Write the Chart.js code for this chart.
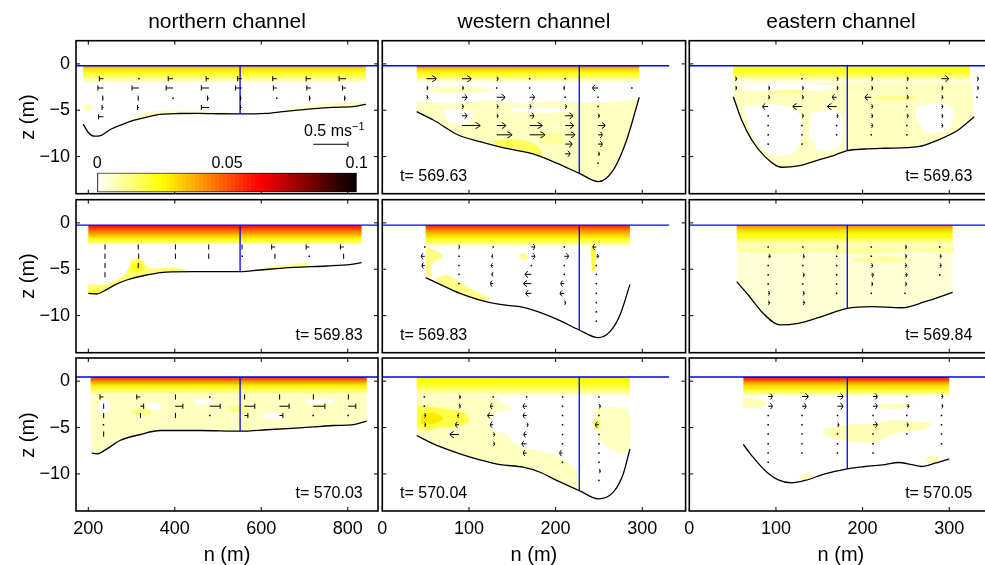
<!DOCTYPE html>
<html><head><meta charset="utf-8">
<script src="https://cdn.jsdelivr.net/npm/chart.js@4.4.1/dist/chart.umd.min.js"></script>
<style>
html,body{margin:0;padding:0;background:#fff;overflow:hidden;width:985px;height:565px;}
#wrap{position:relative;width:985px;height:565px;overflow:hidden;background:#fff;}
canvas{position:absolute;}
.lbl{position:absolute;font-family:"Liberation Sans",Arial,Helvetica,sans-serif;color:#000;white-space:nowrap;line-height:1;}
</style></head><body><div id="wrap"></div>
<script>
// ================= DATA =================
const columnTitles = ['northern channel', 'western channel', 'eastern channel'];
const timeLabels = [[null, 't= 569.63', 't= 569.63'], ['t= 569.83', 't= 569.83', 't= 569.84'], ['t= 570.03', 't= 570.04', 't= 570.05']];
const zTicks = [-10, -5, 0];
const zRange = [-14, 2.5];
const nTicksNorth = [200, 400, 600, 800];
const nTicksWE = [0, 100, 200, 300];
const nRangeNorth = [171.5, 870];
const nRangeWE = [0, 350];
const cbTicks = [0, 0.05, 0.1];
const cbRange = [0, 0.1];
const quiverScale = 160;            // m of n per (m/s)
const refArrow = [720.5, -8.67, 0.5]; // n, z, u (0.5 m/s)

// water surface (blue line) per row, vertical section line per column
const surfZ = [-0.2, -0.25, 0.45];
const surfEndN = [870, 331, 350];
const vertN = [551, 227.3, 182.3];
const vertBottom = [[-5.4, -11.8, -9.36], [-5.26, -11.55, -9.21], [-5.39, -11.8, -9.45]];

// bathymetry [n, z]
const bath_r1c1 = [[188,-6.5],[200,-7.4],[214,-7.8],[230,-7.7],[250,-7.1],[275,-6.6],[304,-6.1],[335,-5.75],[366,-5.45],[410,-5.35],[458,-5.33],[505,-5.38],[551,-5.4],[612,-5.33],[650,-5.15],[690,-4.97],[730,-4.8],[766,-4.68],[812,-4.62],[842,-4.36]];
const bath_r2c1 = [[200,-7.6],[219,-7.67],[243,-7.17],[265,-6.6],[289,-6.16],[335,-5.62],[381,-5.3],[443,-5.26],[551,-5.26],[597,-5.08],[674,-4.8],[751,-4.65],[805,-4.5],[832,-4.29]];
const bath_r3c1 = [[208,-7.76],[219,-7.84],[243,-7.3],[273,-6.4],[320,-5.75],[366,-5.32],[458,-5.32],[552,-5.39],[613,-5.24],[690,-5.03],[767,-4.78],[813,-4.68],[844,-4.32]];
const bath_r1c2 = [[39.7,-5.15],[58.9,-6.05],[87.7,-7.67],[112.7,-8.39],[137.8,-9.0],[162.7,-9.47],[178.1,-9.83],[201.2,-10.7],[227.3,-11.8],[249.2,-12.7],[266.5,-11.45],[282,-8.2],[296.5,-3.6]];
const bath_r2c2 = [[50,-5.9],[66.6,-6.63],[89.6,-7.6],[112.7,-8.32],[135.8,-8.8],[158.9,-9.04],[174.2,-9.4],[201.2,-10.37],[227.3,-11.55],[249.2,-12.38],[262.7,-11.73],[274.3,-9.94],[285.8,-6.63]];
const bath_r3c2 = [[39.7,-5.86],[58.9,-6.76],[89.6,-7.83],[112.7,-8.48],[135.8,-8.99],[162.7,-9.28],[182,-9.82],[201.2,-10.7],[227.3,-11.8],[249.2,-12.69],[266.5,-11.97],[278,-10.0],[285.8,-7.3]];
const bath_r1c3 = [[50.8,-3.54],[60.4,-6.05],[72,-8.2],[87.3,-10.0],[106.6,-11.15],[125.8,-11.0],[148.8,-10.37],[168.1,-9.83],[182.3,-9.36],[202.7,-9.18],[225.8,-9.1],[264.2,-8.93],[287.3,-8.2],[310.4,-7.13],[328.8,-5.7]];
const bath_r2c3 = [[54.7,-6.34],[68.1,-7.78],[83.5,-9.58],[104.7,-11.0],[125.8,-10.83],[148.8,-10.23],[182.3,-9.21],[210.4,-9.04],[245,-9.15],[272,-8.5],[303.9,-7.49]];
const bath_r3c3 = [[62.3,-6.83],[72,-8.02],[87.3,-9.63],[102.7,-10.64],[118.1,-10.96],[133.5,-10.71],[156.6,-10.0],[182.3,-9.45],[202.7,-9.2],[225.8,-8.99],[241.1,-8.77],[256.6,-8.99],[268.1,-9.2],[283.5,-8.85],[300,-8.37]];

// surface layer: n extent, depth levels and field values
const bandN_r1c1 = [188, 842], bandZ_r1c1 = [-0.2,-0.6,-1.0,-1.4,-1.8,-2.05], bandV_r1c1 = [0.038,0.028,0.022,0.014,0.007,0.001];
const bandN_r2c1 = [200, 832], bandZ_r2c1 = [-0.25,-0.7,-1.2,-1.7,-2.1,-2.3], bandV_r2c1 = [0.062,0.05,0.038,0.026,0.015,0.007];
const bandN_r3c1 = [205.5, 844], bandZ_r3c1 = [0.45,0,-0.5,-1.0,-1.54], bandV_r3c1 = [0.058,0.042,0.027,0.015,0.005];
const bandN_r1c2 = [39.7, 296.5], bandZ_r1c2 = [-0.2,-0.6,-1.0,-1.4,-1.8,-2.0], bandV_r1c2 = [0.046,0.031,0.024,0.015,0.006,0.001];
const bandN_r2c2 = [50, 285.8], bandZ_r2c2 = [-0.25,-0.7,-1.2,-1.7,-2.2,-2.5], bandV_r2c2 = [0.058,0.045,0.034,0.024,0.012,0.004];
const bandN_r3c2 = [39.7, 285.8], bandZ_r3c2 = [0.45,0,-0.5,-1.0,-1.54], bandV_r3c2 = [0.027,0.024,0.02,0.012,0.005];
const bandN_r1c3 = [50.8, 324], bandZ_r1c3 = [-0.2,-0.7,-1.2,-1.6,-2.0], bandV_r1c3 = [0.026,0.023,0.017,0.008,0.001];
const bandN_r2c3 = [54.7, 303.9], bandZ_r2c3 = [-0.25,-0.7,-1.2,-1.7,-2.2,-2.5], bandV_r2c3 = [0.045,0.032,0.025,0.018,0.008,0.004];
const bandN_r3c3 = [62.3, 300], bandZ_r3c3 = [0.45,0,-0.5,-1.0,-1.54], bandV_r3c3 = [0.062,0.045,0.03,0.02,0.006];

// low-level patches of the field {v, pts:[[n,z]...]}, listed bottom-to-top
const top_r1c2 = [[39.7,-4.0],[80,-4.3],[120,-3.9],[160,-4.3],[200,-4.0],[240,-4.2],[280,-4.0],[296.5,-3.6]];
const top_r1c3 = [[50.8,-1.9],[326,-1.9]];
const top_r2c3 = [[54.7,-2.4],[303.9,-2.4]];
const top_r3c1 = [[205.5,-1.54],[844,-1.54]];
const patch_r1c1 = [
  {v:0.006, pts:[[188,-4.4],[205,-4.3],[212,-4.8],[200,-5.1],[188,-5.0]]},
  {v:0.006, pts:[[300,-5.9],[340,-5.2],[400,-5.0],[460,-5.1],[520,-5.2],[520,-5.38],[458,-5.33],[366,-5.45],[304,-6.1]]},
  {v:0.006, pts:[[660,-4.8],[700,-4.5],[760,-4.25],[842,-4.1],[842,-4.36],[812,-4.62],[766,-4.68],[690,-4.97],[660,-5.1]]}
];
const patch_r2c1 = [
  {v:0.014, pts:[[200,-6.6],[230,-6.7],[260,-6.3],[285,-5.5],[295,-4.6],[300,-4.0],[315,-3.8],[330,-4.3],[340,-4.9],[370,-4.9],[400,-4.8],[420,-5.0],[430,-5.2],[381,-5.3],[335,-5.62],[289,-6.16],[243,-7.17],[219,-7.67],[200,-7.6]]},
  {v:0.022, pts:[[300,-4.5],[318,-4.2],[328,-4.8],[312,-5.3],[298,-5.2]]},
  {v:0.02, pts:[[200,-7.2],[230,-7.25],[240,-7.05],[225,-7.6],[205,-7.6]]},
  {v:0.01, pts:[[590,-5.05],[620,-4.7],[660,-4.5],[700,-4.3],[715,-4.5],[700,-4.8],[674,-4.8],[597,-5.08]]}
];
const patch_r3c1 = [
  {v:0.006, base:true, pts:top_r3c1.concat(bath_r3c1.slice().reverse())},
  {v:0, pts:[[225,-2.2],[245,-2.0],[250,-3.0],[235,-3.5],[222,-3.0]]},
  {v:0, pts:[[330,-2.6],[360,-2.4],[370,-3.0],[340,-3.1]]},
  {v:0, pts:[[440,-2.0],[480,-1.9],[490,-2.4],[450,-2.5]]},
  {v:0, pts:[[700,-2.0],[760,-1.9],[770,-2.3],[710,-2.4]]},
  {v:0, pts:[[600,-3.6],[640,-3.4],[650,-4.0],[610,-4.1]]},
  {v:0.012, pts:[[520,-2.8],[560,-2.6],[570,-3.2],[530,-3.4]]},
  {v:0.012, pts:[[300,-3.1],[340,-3.0],[345,-3.6],[305,-3.7]]}
];
const patch_r1c2 = [
  {v:0.006, base:true, pts:top_r1c2.concat(bath_r1c2.slice().reverse())},
  {v:0.006, pts:[[55,-2.5],[100,-2.4],[130,-2.8],[100,-3.2],[55,-3.1]]},
  {v:0, pts:[[70,-5.0],[90,-4.9],[105,-5.5],[95,-6.5],[75,-6.3]]},
  {v:0, pts:[[150,-4.8],[190,-4.7],[220,-5.0],[190,-5.3],[150,-5.2]]},
  {v:0.01, pts:[[175,-7.5],[205,-7.6],[210,-8.5],[190,-8.6]]},
  {v:0.016, pts:[[125,-8.4],[150,-8.1],[175,-8.6],[185,-9.6],[178,-9.83],[163,-9.47],[138,-9.0]]}
];
const patch_r2c2 = [
  {v:0.012, pts:[[50,-2.6],[62,-3.0],[70,-3.6],[60,-4.2],[55,-5.0],[58,-5.5],[50,-5.9]]},
  {v:0.012, pts:[[60,-6.0],[75,-5.6],[90,-6.4],[110,-7.5],[125,-8.2],[112.7,-8.32],[89.6,-7.6],[66.6,-6.63]]},
  {v:0.012, pts:[[158,-3.4],[165,-3.3],[168,-3.9],[160,-4.0]]},
  {v:0.02, pts:[[240,-2.4],[246,-2.4],[245,-5.2],[242,-5.2]]}
];
const patch_r3c2 = [
  {v:0.006, base:true, pts:[[39.7,-1.6],[130,-1.6],[140,-2.4],[150,-3.0],[128,-3.5],[122,-4.5],[128,-5.3],[145,-5.8],[150,-6.6],[170,-7.3],[200,-7.9],[215,-8.9],[228,-9.8],[230,-11.9],[227.3,-11.8],[201.2,-10.7],[182,-9.82],[162.7,-9.28],[135.8,-8.99],[112.7,-8.48],[89.6,-7.83],[58.9,-6.76],[39.7,-5.86]]},
  {v:0.006, pts:[[244,-3.0],[270,-2.8],[285,-3.2],[285,-7.3],[275,-7.8],[258,-7.0],[250,-6.0],[244,-4.0]]},
  {v:0.018, pts:[[40,-2.6],[60,-2.8],[75,-3.0],[95,-3.4],[100,-4.3],[90,-4.8],[70,-5.0],[50,-5.3],[40,-5.0]]},
  {v:0.028, pts:[[45,-3.5],[60,-3.4],[70,-4.0],[60,-4.6],[45,-4.6]]},
  {v:0.014, pts:[[243,-4.3],[250,-4.2],[252,-5.0],[244,-5.2]]}
];
const patch_r1c3 = [
  {v:0.006, base:true, pts:top_r1c3.concat(bath_r1c3.slice().reverse())},
  {v:0, pts:[[62,-4.6],[100,-4.4],[125,-5.2],[130,-7.5],[120,-9.6],[95,-9.8],[78,-8.5],[68,-6.5]]},
  {v:0, pts:[[140,-5.3],[170,-5.0],[178,-6.5],[172,-9.0],[150,-9.3],[138,-7.5]]},
  {v:0, pts:[[262,-4.6],[290,-4.2],[305,-5.0],[300,-7.0],[275,-7.4],[262,-6.0]]},
  {v:0, pts:[[55,-2.2],[130,-2.1],[175,-2.6],[120,-3.0],[60,-2.8]]},
  {v:0.012, pts:[[212,-3.6],[240,-3.4],[265,-3.6],[240,-3.9],[212,-3.8]]},
  {v:0.012, pts:[[95,-2.9],[120,-2.8],[140,-3.0],[120,-3.2],[95,-3.1]]}
];
const patch_r2c3 = [
  {v:0.004, base:true, pts:top_r2c3.concat(bath_r2c3.slice().reverse())},
  {v:0.009, pts:[[55,-2.4],[304,-2.4],[304,-3.2],[250,-3.0],[200,-3.4],[150,-3.1],[100,-3.3],[55,-3.0]]},
  {v:0.009, pts:[[190,-3.8],[230,-3.6],[260,-4.0],[230,-4.3],[190,-4.2]]}
];
const patch_r3c3 = [
  {v:0.007, pts:[[62,-1.8],[80,-1.9],[90,-2.4],[80,-2.9],[62,-2.8]]},
  {v:0.007, pts:[[215,-2.6],[240,-2.4],[260,-2.6],[240,-3.0],[215,-2.9]]},
  {v:0.007, pts:[[155,-5.2],[180,-4.7],[210,-4.6],[230,-4.2],[260,-4.3],[280,-4.6],[270,-5.2],[240,-5.6],[210,-6.6],[170,-6.3],[155,-5.8]]},
  {v:0.007, pts:[[125,-10.3],[135,-9.9],[142,-10.3],[135,-10.8]]},
  {v:0.007, pts:[[272,-8.3],[285,-8.0],[288,-8.6],[276,-8.9]]}
];

// velocity vectors: n of each profile, z of each bin, u (m/s) per profile (null = no data)
const arrN_r1c1 = [235,317,396,479,555,636,715,796];
const arrZ_r1c1 = [-1.6,-2.6,-3.7,-4.7,-5.7];
const arrU_r1c1 = [[-0.06,-0.08,-0.01,-0.02,-0.07],[0,-0.1,-0.01,-0.02,null],[-0.07,-0.1,0,null,null],[-0.04,-0.11,-0.02,-0.11,null],[-0.06,-0.09,-0.02,-0.02,null],[-0.06,-0.05,0,null,null],[-0.07,-0.06,-0.02,null,null],[-0.1,-0.05,-0.02,null,null]];
const arrN_r2c1 = [239,317,402,479,556,632,711,791];
const arrZ_r2c1 = [-2.6,-3.6,-4.6,-5.6];
const arrU_r2c1 = [[-0.003,-0.003,-0.003,-0.003],[-0.01,-0.003,-0.01,null],[-0.003,-0.003,null,null],[-0.003,-0.003,null,null],[-0.003,0,null,null],[-0.05,-0.003,null,null],[-0.045,0,null,null],[-0.05,-0.003,null,null]];
const arrN_r3c1 = [235,320,401,481,561,642,720,801];
const arrZ_r3c1 = [-1.7,-2.7,-3.7,-4.7,-5.7];
const arrU_r3c1 = [[-0.05,0.003,0.003,0,0.003],[-0.05,0.05,0.003,null,null],[0.003,0.11,0.003,null,null],[0,0.15,0,null,null],[0.003,0.15,0.05,null,null],[0.003,0.14,0.05,null,null],[0.003,0.17,0,null,null],[0.003,0.11,0,null,null]];
const arrN_r1c2 = [51,92,132,170,211,249,288];
const arrZ_r1c2 = [-1.6,-2.6,-3.6,-4.6,-5.6,-6.65,-7.65,-8.65,-9.7,-10.7];
const arrU_r1c2 = [[0.07,0.01,0.01,null,null,null,null,null,null,null],[0.065,0.01,0.035,0.01,0.035,0.13,null,null,null,null],[0.01,0,0.06,0.01,0.01,0.065,0.11,null,null,null],[0,0,0.035,0.01,0.03,0.09,0.11,null,null,null],[0,-0.01,0,0.01,0.055,0.06,0.07,0.05,0.035,null],[null,-0.04,0,0,0.01,0.05,0.03,0.03,0.01,0],[null,0,null,null,null,null,null,null,null,null]];
const arrN_r2c2 = [49,88.5,128,172,210,247];
const arrZ_r2c2 = [-2.6,-3.6,-4.6,-5.55,-6.55,-7.6,-8.6,-9.6,-10.6];
const arrU_r2c2 = [[0,-0.025,-0.02,null,null,null,null,null,null],[0.003,0,0,0,0,null,null,null,null],[0,-0.01,-0.015,-0.01,-0.02,null,null,null,null],[0.025,0.025,0,-0.045,-0.055,-0.04,null,null,null],[0,0.03,0,0,-0.025,-0.03,0.01,null,null],[-0.025,0.015,0,0,0,0,0,0,0]];
const arrN_r3c2 = [48.5,88.5,128,166.6,208,250];
const arrZ_r3c2 = [-1.7,-2.7,-3.7,-4.7,-5.75,-6.75,-7.75,-8.75,-9.7,-10.7];
const arrU_r3c2 = [[0,0,0.01,0.01,null,null,null,null,null,null],[0.01,0.01,-0.01,-0.025,-0.065,null,null,null,null,null],[0,-0.02,-0.04,-0.02,0.01,0.01,null,null,null,null],[0,-0.025,-0.025,0.01,-0.02,-0.035,-0.025,null,null,null],[0,0,0,0,0,0,-0.02,0,null,null],[0,0.01,0,-0.025,0,0,0,0,0.01,0]];
const arrN_r1c3 = [53,91,130,170,210,251,291,332];
const arrZ_r1c3 = [-1.6,-2.6,-3.6,-4.6,-5.6,-6.65,-7.65,-8.65];
const arrU_r1c3 = [[0.01,0.01,null,null,null,null,null,null],[null,0.01,0.01,-0.04,0,0,0,0],[0,0.01,0.01,-0.065,0.01,0,0,0],[0.01,0.01,-0.03,-0.065,0.01,0,0,null],[0.01,0.01,-0.045,0.01,0.01,0.01,0,null],[0.01,0,0.01,0,0.01,0,0,null],[0.05,0.01,0.01,0.01,0.01,0.01,null,null],[0.01,0.01,0,null,null,null,null,null]];
const arrN_r2c3 = [91,131,170,210,249,289];
const arrZ_r2c3 = [-2.6,-3.6,-4.6,-5.6,-6.6,-7.6,-8.6];
const arrU_r2c3 = [[0,0.015,0,0,0,0.01,0.01],[0,0.01,0,0.01,0,0.01,0.012],[0.01,0,0,0,0,0,null],[0,0,0.01,0.015,0.01,0,null],[0.01,0.01,0.01,0.015,0.01,0,null],[0,0.01,0.01,0,null,null,null]];
const arrN_r3c3 = [91,130,171,212,251,291];
const arrZ_r3c3 = [-1.65,-2.7,-3.7,-4.7,-5.7,-6.75,-7.75,-8.75];
const arrU_r3c3 = [[0.03,0.03,0,0,0,0,0,0],[0.045,0.03,0,0,0,0,0,null],[0.04,0.04,0,0.01,0,0,0,null],[0.03,0.03,0,0.03,0,0,0,null],[0,0.015,0,0.01,0,null,null,null],[0.01,0.01,0,0,0,0,null,null]];

// ================= LAYOUT / STYLE =================
const FONT = '"Liberation Sans", Arial, Helvetica, sans-serif';
const rowTop = [40.7, 199.7, 358], rowH = 153;
const colLeft = [76, 382.3, 689.3], colW = [302, 303.3, 303.3];
const wrap = document.getElementById('wrap');
Chart.defaults.font.family = FONT;

function hotR(v){ // flipped MATLAB "hot" colormap on [0, 0.1]
  const t = 1 - Math.min(1, Math.max(0, v / 0.1));
  const cl = a => Math.min(1, Math.max(0, a));
  const r = cl(t/0.375), g = cl((t-0.375)/0.375), b = cl((t-0.75)/0.25);
  return 'rgb(' + Math.round(r*255) + ',' + Math.round(g*255) + ',' + Math.round(b*255) + ')';
}
const fmt = v => v < 0 ? '\u2212' + Math.abs(v) : String(v);

function drawArrow(ctx, x0, y0, x1, style){
  const len = x1 - x0, al = Math.abs(len), dir = Math.sign(len) || 1;
  if (al < 0.05){ ctx.fillRect(x0-0.75, y0-0.75, 1.5, 1.5); return; }
  ctx.beginPath();
  ctx.moveTo(x0, y0); ctx.lineTo(x1, y0);
  if (style === 'bar'){ ctx.moveTo(x1, y0-2.6); ctx.lineTo(x1, y0+2.6); }
  else {
    const hb = Math.min(4.5, 0.35*al + 0.6), hv = al < 2.5 ? 2.2 : 3;
    ctx.moveTo(x1 - dir*hb, y0 - hv); ctx.quadraticCurveTo(x1 - dir*hb*0.2, y0 - hv*0.6, x1, y0);
    ctx.quadraticCurveTo(x1 - dir*hb*0.2, y0 + hv*0.6, x1 - dir*hb, y0 + hv);
  }
  ctx.stroke();
}

const quiverPlugin = {
  id: 'quiver',
  afterDatasetsDraw(chart){
    const {ctx, chartArea: a, scales: {x}} = chart;
    ctx.save();
    ctx.beginPath(); ctx.rect(a.left, a.top, a.right-a.left, a.bottom-a.top); ctx.clip();
    ctx.strokeStyle = '#000'; ctx.fillStyle = '#000'; ctx.lineWidth = 1;
    chart.data.datasets.forEach((ds, i) => {
      if (!ds.quiver) return;
      const meta = chart.getDatasetMeta(i);
      meta.data.forEach((el, j) => {
        const d = ds.data[j];
        const x1 = d.u === 0 ? el.x : x.getPixelForValue(d.x + d.u * quiverScale);
        drawArrow(ctx, el.x, el.y, x1, ds.quiver);
      });
    });
    ctx.restore();
  }
};

const framePlugin = {
  id: 'frame',
  afterDraw(chart){
    const {ctx, chartArea: a, scales: {x, y}} = chart;
    ctx.save(); ctx.strokeStyle = '#000'; ctx.lineWidth = 1;
    ctx.beginPath();
    for (const t of x.ticks){ const px = x.getPixelForValue(t.value);
      ctx.moveTo(px, a.bottom); ctx.lineTo(px, a.bottom-4); ctx.moveTo(px, a.top); ctx.lineTo(px, a.top+4); }
    for (const t of y.ticks){ const py = y.getPixelForValue(t.value);
      ctx.moveTo(a.left, py); ctx.lineTo(a.left+4, py); ctx.moveTo(a.right, py); ctx.lineTo(a.right-4, py); }
    ctx.stroke();
    ctx.lineWidth = 1.6;
    ctx.strokeRect(a.left, a.top, a.right-a.left, a.bottom-a.top);
    ctx.restore();
  }
};

function bandGradient(chart, zs, vs){
  const a = chart.chartArea;
  if (!a) return hotR(vs[0]);
  const y = chart.scales.y;
  const y0 = y.getPixelForValue(zs[0]), y1 = y.getPixelForValue(zs[zs.length-1]);
  const g = chart.ctx.createLinearGradient(0, y0, 0, y1);
  zs.forEach((z, i) => g.addColorStop(Math.min(1, Math.max(0, (y.getPixelForValue(z) - y0) / (y1 - y0))), hotR(vs[i])));
  return g;
}

function addText(txt, x, y, size, align, rot){
  const d = document.createElement('div');
  d.className = 'lbl';
  d.innerHTML = txt;
  d.style.left = x + 'px'; d.style.top = y + 'px'; d.style.fontSize = size + 'px';
  const tx = align === 'l' ? '0' : align === 'r' ? '-100%' : '-50%';
  d.style.transform = 'translate(' + tx + ',-50%)' + (rot ? ' rotate(-90deg)' : '');
  wrap.appendChild(d);
}

const panels = [
  {r:0,c:0,bath:bath_r1c1,bandN:bandN_r1c1,bandZ:bandZ_r1c1,bandV:bandV_r1c1,patches:patch_r1c1,aN:arrN_r1c1,aZ:arrZ_r1c1,aU:arrU_r1c1,ref:refArrow},
  {r:0,c:1,bath:bath_r1c2,bandN:bandN_r1c2,bandZ:bandZ_r1c2,bandV:bandV_r1c2,patches:patch_r1c2,aN:arrN_r1c2,aZ:arrZ_r1c2,aU:arrU_r1c2},
  {r:0,c:2,bath:bath_r1c3,bandN:bandN_r1c3,bandZ:bandZ_r1c3,bandV:bandV_r1c3,patches:patch_r1c3,aN:arrN_r1c3,aZ:arrZ_r1c3,aU:arrU_r1c3},
  {r:1,c:0,bath:bath_r2c1,bandN:bandN_r2c1,bandZ:bandZ_r2c1,bandV:bandV_r2c1,patches:patch_r2c1,aN:arrN_r2c1,aZ:arrZ_r2c1,aU:arrU_r2c1},
  {r:1,c:1,bath:bath_r2c2,bandN:bandN_r2c2,bandZ:bandZ_r2c2,bandV:bandV_r2c2,patches:patch_r2c2,aN:arrN_r2c2,aZ:arrZ_r2c2,aU:arrU_r2c2},
  {r:1,c:2,bath:bath_r2c3,bandN:bandN_r2c3,bandZ:bandZ_r2c3,bandV:bandV_r2c3,patches:patch_r2c3,aN:arrN_r2c3,aZ:arrZ_r2c3,aU:arrU_r2c3},
  {r:2,c:0,bath:bath_r3c1,bandN:bandN_r3c1,bandZ:bandZ_r3c1,bandV:bandV_r3c1,patches:patch_r3c1,aN:arrN_r3c1,aZ:arrZ_r3c1,aU:arrU_r3c1},
  {r:2,c:1,bath:bath_r3c2,bandN:bandN_r3c2,bandZ:bandZ_r3c2,bandV:bandV_r3c2,patches:patch_r3c2,aN:arrN_r3c2,aZ:arrZ_r3c2,aU:arrU_r3c2},
  {r:2,c:2,bath:bath_r3c3,bandN:bandN_r3c3,bandZ:bandZ_r3c3,bandV:bandV_r3c3,patches:patch_r3c3,aN:arrN_r3c3,aZ:arrZ_r3c3,aU:arrU_r3c3}
];

const xy = pts => pts.map(([n, z]) => ({x: n, y: z}));

function makePanel(p){
  const north = p.c === 0;
  const L = colLeft[p.c], T = rowTop[p.r], R = L + colW[p.c], B = T + rowH;
  const WY = 70, HX = 40, MT = 22;
  const cl = Math.floor(L - WY), ct = Math.floor(T - MT);
  const cw = Math.ceil(R + 4) - cl, ch = Math.ceil(B + HX + 2) - ct;
  const pad = {left: L - WY - cl, top: T - ct, right: cl + cw - R, bottom: ct + ch - B - HX};
  const cv = document.createElement('canvas');
  cv.width = cw; cv.height = ch;
  cv.style.left = cl + 'px'; cv.style.top = ct + 'px'; cv.style.width = cw + 'px'; cv.style.height = ch + 'px';
  wrap.appendChild(cv);
  const nR = north ? nRangeNorth : nRangeWE, nT = north ? nTicksNorth : nTicksWE;
  const sz = surfZ[p.r];
  const ds = [];
  const apts = [];
  p.aN.forEach((n, ci) => p.aU[ci].forEach((u, ri) => { if (u !== null) apts.push({x: n, y: p.aZ[ri], u: u}); }));
  if (p.ref) apts.push({x: p.ref[0], y: p.ref[1], u: p.ref[2]});
  ds.push({data: apts, quiver: north ? 'bar' : 'arrow', showLine: false, pointRadius: 0, order: 0});
  ds.push({data: [{x: nR[0], y: sz}, {x: surfEndN[p.c], y: sz}], borderColor: '#0000ff', borderWidth: 1.3, pointRadius: 0, order: 1});
  ds.push({data: [{x: vertN[p.c], y: sz}, {x: vertN[p.c], y: vertBottom[p.r][p.c]}], borderColor: '#0000ff', borderWidth: 1.3, pointRadius: 0, order: 1});
  ds.push({data: xy(p.bath), borderColor: '#000', borderWidth: 1.3, cubicInterpolationMode: 'monotone', pointRadius: 0, order: 2});
  const bz = p.bandZ;
  ds.push({data: xy([[p.bandN[0], bz[0]], [p.bandN[1], bz[0]], [p.bandN[1], bz[bz.length-1]], [p.bandN[0], bz[bz.length-1]]]),
    fill: 'shape', borderColor: 'rgba(0,0,0,0)', borderWidth: 0, pointRadius: 0, order: 3,
    backgroundColor: ctx => bandGradient(ctx.chart, p.bandZ, p.bandV)});
  p.patches.forEach((pa, i) => {
    ds.push({data: xy(pa.pts), fill: 'shape', backgroundColor: hotR(pa.v), borderColor: 'rgba(0,0,0,0)', borderWidth: 0,
      pointRadius: 0, tension: pa.base ? 0 : 0.3, order: 100 - i});
  });
  new Chart(cv, {
    type: 'line',
    data: {datasets: ds},
    options: {
      responsive: false, animation: false, devicePixelRatio: 1, events: [],
      layout: {padding: pad},
      plugins: {legend: {display: false}, tooltip: {enabled: false}},
      scales: {
        x: {type: 'linear', min: nR[0], max: nR[1],
          afterFit: s => { s.height = HX; },
          afterBuildTicks: s => { s.ticks = nT.map(v => ({value: v})); },
          grid: {display: false, drawTicks: false}, border: {display: false},
          ticks: {display: p.r === 2, autoSkip: false, maxRotation: 0, padding: 7, color: '#000', font: {size: 18, family: FONT}, callback: fmt}},
        y: {type: 'linear', min: zRange[0], max: zRange[1],
          afterFit: s => { s.width = WY; },
          afterBuildTicks: s => { s.ticks = zTicks.map(v => ({value: v})); },
          grid: {display: false, drawTicks: false}, border: {display: false},
          ticks: {display: p.c === 0, autoSkip: false, padding: 6, color: '#000', font: {size: 18, family: FONT}, callback: fmt}}
      }
    },
    plugins: [quiverPlugin, framePlugin]
  });
  const tl = timeLabels[p.r][p.c];
  if (tl){
    const cy = B - 18;
    if (p.c === 0) addText(tl, R - 15.3, cy, 16, 'r');
    else if (p.c === 1) addText(tl, L + 17.7, cy, 16, 'l');
    else addText(tl, L + 283, cy, 16, 'r');
  }
}

panels.forEach(makePanel);

// colour bar (inside the first panel)
(function(){
  const cl = 60, ct = 138, cw = 320, ch = 58;
  const A = {left: 97.3, right: 356.7, top: 172.7, bottom: 192.3};
  const cv = document.createElement('canvas');
  cv.width = cw; cv.height = ch;
  cv.style.left = cl + 'px'; cv.style.top = ct + 'px'; cv.style.width = cw + 'px'; cv.style.height = ch + 'px';
  wrap.appendChild(cv);
  const cbGrad = ctx => {
    const chart = ctx.chart, a = chart.chartArea;
    if (!a) return hotR(0.05);
    const x = chart.scales.x;
    const x0 = x.getPixelForValue(cbRange[0]), x1 = x.getPixelForValue(cbRange[1]);
    const g = chart.ctx.createLinearGradient(x0, 0, x1, 0);
    const N = 64;
    for (let i = 0; i < N; i++){
      const col = hotR(cbRange[0] + (i + 0.5) / N * (cbRange[1] - cbRange[0]));
      g.addColorStop(i / N, col); g.addColorStop((i + 1) / N, col);
    }
    return g;
  };
  new Chart(cv, {
    type: 'bar',
    data: {labels: ['c'], datasets: [{data: [[cbRange[0], cbRange[1]]], backgroundColor: cbGrad, borderColor: '#000', borderWidth: 1.2, borderSkipped: false, barPercentage: 1, categoryPercentage: 1}]},
    options: {
      indexAxis: 'y', responsive: false, animation: false, devicePixelRatio: 1, events: [],
      layout: {padding: {left: A.left - cl, right: cl + cw - A.right, top: 0, bottom: ct + ch - A.bottom}},
      plugins: {legend: {display: false}, tooltip: {enabled: false}},
      scales: {
        x: {type: 'linear', position: 'top', min: cbRange[0], max: cbRange[1],
          afterFit: s => { s.height = A.top - ct; },
          afterBuildTicks: s => { s.ticks = cbTicks.map(v => ({value: v})); },
          grid: {display: false, drawTicks: false}, border: {display: false},
          ticks: {autoSkip: false, maxRotation: 0, padding: 0, color: '#000', font: {size: 16, family: FONT}, callback: v => String(v)}},
        y: {afterFit: s => { s.width = 0; }, ticks: {display: false}, grid: {display: false}, border: {display: false}}
      }
    }
  });
})();

// titles and axis labels
const colCenter = colLeft.map((l, i) => l + colW[i] / 2);
columnTitles.forEach((t, i) => addText(t, colCenter[i], 20, 21, 'c'));
rowTop.forEach(t => addText('z (m)', 27, t + rowH / 2, 20, 'c', true));
colCenter.forEach(cx => addText('n (m)', cx, 554, 20, 'c'));
addText('0.5 ms<sup style="font-size:11px;vertical-align:6px">\u22121</sup>', 304, 129.5, 16, 'l');
</script></body></html>
